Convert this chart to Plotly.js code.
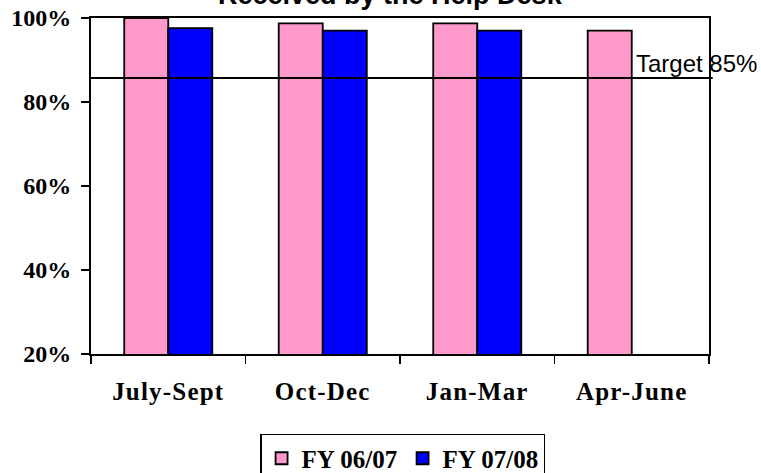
<!DOCTYPE html>
<html>
<head>
<meta charset="utf-8">
<script src="https://cdn.plot.ly/plotly-3.0.1.min.js"></script>
<style>
html,body{margin:0;padding:0;background:#fff;}
#chart{width:761px;height:473px;}
.xtick text{letter-spacing:1.2px;}
</style>
</head>
<body>
<div id="chart"></div>
<script>
const categories = ["July-Sept", "Oct-Dec", "Jan-Mar", "Apr-June"];
const fy0607 = [100, 98.7, 98.7, 97.0];
const fy0708 = [97.6, 97.0, 97.0, null];
const seriesNames = ["FY 06/07", "FY 07/08"];
const targetValue = 85.7;
const targetLabel = "Target 85%";
const chartTitle = "Received by the Help Desk";
const yTickVals = [20, 40, 60, 80, 100];
const yTickText = ["20%", "40%", "60%", "80%", "100%"];

const serif = "Liberation Serif, Times New Roman, serif";
const sans = "Liberation Sans, Arial, sans-serif";

const traces = [
  {type: "bar", x: categories, y: fy0607, name: seriesNames[0],
   marker: {color: "#FF99CC", line: {color: "#000", width: 1.8}}},
  {type: "bar", x: categories, y: fy0708, name: seriesNames[1],
   marker: {color: "#0000FF", line: {color: "#000", width: 1.8}}}
];

const layout = {
  width: 761, height: 473,
  margin: {l: 91, r: 52, t: 17.5, b: 119},
  paper_bgcolor: "#fff", plot_bgcolor: "#fff",
  barmode: "group", bargap: 0.43, bargroupgap: 0,
  showlegend: true,
  legend: {orientation: "h", xref: "container", yref: "container",
    x: 0.529, xanchor: "center", y: 0.0825, yanchor: "top",
    bordercolor: "#000", borderwidth: 1.5, bgcolor: "#fff",
    entrywidth: 96, entrywidthmode: "pixels",
    font: {family: serif, size: 25, color: "#000", weight: "bold"},
    tracegroupgap: 0},
  xaxis: {type: "category", showgrid: false, zeroline: false, automargin: false,
    showline: true, linecolor: "#000", linewidth: 2, mirror: true,
    ticks: "outside", tickson: "boundaries", ticklen: 8, tickcolor: "#000", tickwidth: 1.5,
    ticklabelstandoff: 14,
    tickfont: {family: serif, size: 25, color: "#000", weight: "bold"}},
  yaxis: {range: [20, 100], showgrid: false, zeroline: false, automargin: false,
    showline: true, linecolor: "#000", linewidth: 2, mirror: true,
    ticks: "outside", ticklen: 8, tickcolor: "#000", tickwidth: 1.5,
    tickvals: yTickVals, ticktext: yTickText, ticklabelstandoff: 5,
    tickfont: {family: serif, size: 24, color: "#000", weight: "bold"}},
  shapes: [
    {type: "line", xref: "paper", yref: "y", x0: -0.003, x1: 1.006, y0: targetValue, y1: targetValue,
     line: {color: "#000", width: 2}}
  ],
  annotations: [
    {xref: "paper", yref: "y", x: 1.08, xanchor: "right", y: targetValue, yanchor: "bottom",
     text: targetLabel, showarrow: false, font: {family: sans, size: 24, color: "#000"}, borderpad: 0},
    {xref: "paper", yref: "paper", x: 0.484, xanchor: "center", y: 1.067, yanchor: "middle",
     text: "<b>" + chartTitle + "</b>", showarrow: false, font: {family: sans, size: 27, color: "#000"}}
  ]
};

Plotly.newPlot("chart", traces, layout, {displayModeBar: false, staticPlot: true});
</script>
</body>
</html>
